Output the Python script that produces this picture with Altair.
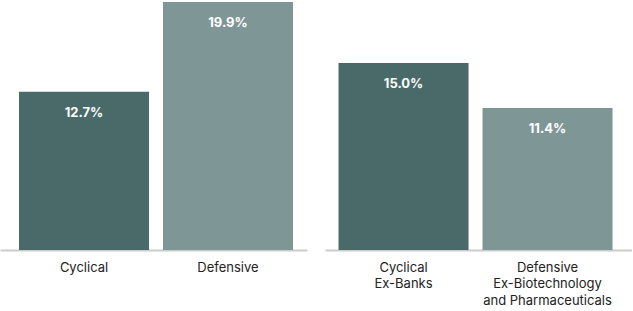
import altair as alt
import pandas as pd

left_cats = ["Cyclical", "Defensive"]
left_vals = [12.7, 19.9]
right_cats = ["Cyclical|Ex-Banks", "Defensive|Ex-Biotechnology|and Pharmaceuticals"]
right_vals = [15.0, 11.4]
kinds = ["Cyclical", "Defensive"]
colors = ["#4a6a6a", "#7f9696"]

FONT = "Inter"

def panel(cats, vals, align):
    df = pd.DataFrame({"cat": cats, "val": vals, "kind": kinds,
                       "lbl": [f"{v:.1f}%" for v in vals]})
    x = alt.X("cat:N", sort=cats, title=None,
              scale=alt.Scale(paddingInner=0.097, paddingOuter=0.1146, align=align),
              axis=alt.Axis(labelAngle=0, ticks=False, domainColor="#cccccc",
                            domainWidth=2, labelPadding=11, labelFontSize=13,
                            labelColor="#222222", labelFont=FONT,
                            labelLineHeight=16.5, labelBaseline="top",
                            labelExpr="split(datum.label, '|')"))
    y = alt.Y("val:Q", title=None, scale=alt.Scale(domain=[0, 20.06], nice=False),
              axis=None)
    base = alt.Chart(df).encode(x=x, y=y)
    bars = base.mark_bar().encode(
        color=alt.Color("kind:N", scale=alt.Scale(domain=kinds, range=colors), legend=None))
    text = base.mark_text(dy=21, baseline="middle", color="white", fontWeight="bold",
                          fontSize=13, font=FONT).encode(text="lbl:N")
    return (bars + text).properties(width=307, height=250)

chart = alt.hconcat(panel(left_cats, left_vals, 0.576), panel(right_cats, right_vals, 0.41),
                    spacing=18).properties(padding=0).configure_view(stroke=None)

chart.save("out.html", embed_options={"renderer": "svg", "actions": False})
